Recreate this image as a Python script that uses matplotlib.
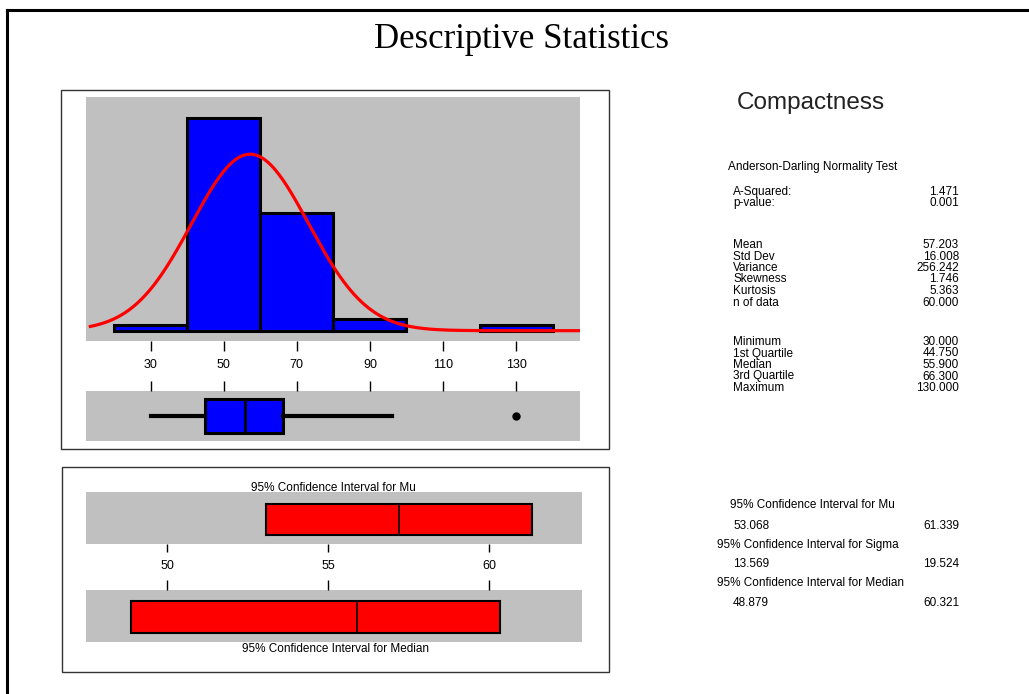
import numpy as np
import matplotlib
matplotlib.use('Agg')
import matplotlib.pyplot as plt
from matplotlib.patches import Rectangle
from matplotlib.lines import Line2D

plt.rcParams['font.family'] = ['Liberation Sans', 'DejaVu Sans']

# Histogram data (bins of 20)
bin_edges = [20, 40, 60, 80, 100, 120, 140]
bin_counts = [1, 36, 20, 2, 0, 1]

# Summary statistics
n_data = 60
mean_val = 57.203
std_val = 16.008
q1_val = 44.75
median_val = 55.9
q3_val = 66.3
whisker_lo = 30.0
whisker_hi = 96.0
outliers = [130.0]
ci_mu = [53.068, 61.339]
ci_median = [48.879, 60.321]
ci_sigma = [13.569, 19.524]

hist_ticks = [30, 50, 70, 90, 110, 130]
ci_ticks = [50, 55, 60]

stat_labels1 = ['A-Squared:', 'p-value:']
stat_values1 = ['1.471', '0.001']
stat_labels2 = ['Mean', 'Std Dev', 'Variance', 'Skewness', 'Kurtosis', 'n of data']
stat_values2 = ['57.203', '16.008', '256.242', '1.746', '5.363', '60.000']
stat_labels3 = ['Minimum', '1st Quartile', 'Median', '3rd Quartile', 'Maximum']
stat_values3 = ['30.000', '44.750', '55.900', '66.300', '130.000']

W, H = 1029, 694
GRAY = '#c0c0c0'
BLUE = '#0000ff'
RED = '#ff0000'

fig = plt.figure(figsize=(W / 100, H / 100), dpi=100)


def fx(x):
    return x / W


def fy(y):
    return 1 - y / H


def add_ax(x0, y0, x1, y1):
    ax = fig.add_axes([fx(x0), fy(y1), fx(x1) - fx(x0), (y1 - y0) / H])
    ax.set_facecolor(GRAY)
    for s in ax.spines.values():
        s.set_visible(False)
    return ax


# outer page border (top and left only)
fig.add_artist(Line2D([fx(7), 1], [fy(10), fy(10)], color='black', lw=2.2,
                      transform=fig.transFigure))
fig.add_artist(Line2D([fx(7), fx(7)], [fy(10), 0], color='black', lw=2.2,
                      transform=fig.transFigure))

# panel frames
for (x0, y0, x1, y1) in [(61, 90, 609, 449), (62, 467, 609, 672)]:
    fig.add_artist(Rectangle((fx(x0), fy(y1)), fx(x1) - fx(x0), (y1 - y0) / H,
                             fill=False, edgecolor='#333333', lw=1,
                             transform=fig.transFigure))

fig.text(0.507, fy(40), 'Descriptive Statistics', family='Liberation Serif',
         fontsize=25, ha='center', va='center')

# histogram
ax = add_ax(86, 97, 580, 341)
lefts = [e for e, c in zip(bin_edges[:-1], bin_counts) if c > 0]
heights = [c for c in bin_counts if c > 0]
ax.bar(lefts, heights, width=20, align='edge', color=BLUE, edgecolor='black',
       linewidth=2.2, zorder=2)
xs = np.linspace(13.5, 147.5, 400)
pdf = np.exp(-0.5 * ((xs - mean_val) / std_val) ** 2) / (std_val * np.sqrt(2 * np.pi))
ax.plot(xs, n_data * 20 * pdf, color=RED, lw=2.3, zorder=3)
ax.set_xlim(12.3, 147.5)
ax.set_ylim(-1.75, 39.6)
ax.set_yticks([])
ax.set_xticks(hist_ticks)
ax.tick_params(axis='x', direction='out', length=7.5, width=1, pad=5.5,
               labelsize=9, colors='black')

# boxplot
axb = add_ax(86, 391, 580, 441)
stats = [{'med': median_val, 'q1': q1_val, 'q3': q3_val,
          'whislo': whisker_lo, 'whishi': whisker_hi, 'fliers': outliers}]
axb.bxp(stats, positions=[1], widths=0.68, orientation='horizontal',
        patch_artist=True, showcaps=False,
        boxprops=dict(facecolor=BLUE, edgecolor='black', linewidth=2.2),
        medianprops=dict(color='black', linewidth=2),
        whiskerprops=dict(color='black', linewidth=3),
        flierprops=dict(marker='o', markerfacecolor='black',
                        markeredgecolor='black', markersize=5))
axb.set_xlim(12.3, 147.5)
axb.set_ylim(0.5, 1.5)
axb.set_yticks([])
axb.set_xticks(hist_ticks)
axb.xaxis.set_ticks_position('top')
axb.tick_params(axis='x', direction='out', length=7.5, width=1,
                labeltop=False, labelbottom=False)

# confidence interval panels
ci_xlim = (47.47, 62.88)
axm = add_ax(86, 492, 582, 544)
axm.barh(0.47, ci_mu[1] - ci_mu[0], left=ci_mu[0], height=0.58, color=RED,
         edgecolor='black', linewidth=1.5)
axm.plot([mean_val, mean_val], [0.18, 0.76], color='black', lw=1.2)
axm.set_xlim(*ci_xlim)
axm.set_ylim(0, 1)
axm.set_yticks([])
axm.set_xticks(ci_ticks)
axm.tick_params(axis='x', direction='out', length=6, width=1, pad=5.5,
                labelsize=9, colors='black')

axd = add_ax(86, 590, 582, 642)
axd.barh(0.48, ci_median[1] - ci_median[0], left=ci_median[0], height=0.6,
         color=RED, edgecolor='black', linewidth=1.5)
axd.plot([median_val, median_val], [0.18, 0.78], color='black', lw=1.2)
axd.set_xlim(*ci_xlim)
axd.set_ylim(0, 1)
axd.set_yticks([])
axd.set_xticks(ci_ticks)
axd.xaxis.set_ticks_position('top')
axd.tick_params(axis='x', direction='out', length=7, width=1,
                labeltop=False, labelbottom=False)

fig.text(fx(333), fy(488), '95% Confidence Interval for Mu', fontsize=8.5,
         ha='center', va='center')
fig.text(fx(335), fy(649), '95% Confidence Interval for Median', fontsize=8.5,
         ha='center', va='center')

# statistics text block
TS = 8.5
fig.text(fx(737), fy(103), 'Compactness', fontsize=17.5, ha='left', va='center',
         color='#222222')
fig.text(fx(728), fy(167), 'Anderson-Darling Normality Test', fontsize=TS,
         ha='left', va='center')

rows = [(stat_labels1, stat_values1, 191.7),
        (stat_labels2, stat_values2, 245),
        (stat_labels3, stat_values3, 342)]
for labels, values, y0 in rows:
    for i, (lab, val) in enumerate(zip(labels, values)):
        y = y0 + i * 11.5
        fig.text(fx(733), fy(y), lab, fontsize=TS, ha='left', va='center')
        fig.text(fx(959), fy(y), val, fontsize=TS, ha='right', va='center')

ci_rows = [('95% Confidence Interval for Mu', ci_mu, 730, 505, 526),
           ('95% Confidence Interval for Sigma', ci_sigma, 717, 545, 564),
           ('95% Confidence Interval for Median', ci_median, 717, 583, 603)]
for title, vals, tx, ty, vy in ci_rows:
    fig.text(fx(tx), fy(ty), title, fontsize=TS, ha='left', va='center')
    fig.text(fx(733), fy(vy), '%.3f' % vals[0], fontsize=TS, ha='left', va='center')
    fig.text(fx(959), fy(vy), '%.3f' % vals[1], fontsize=TS, ha='right', va='center')

fig.savefig('out.png', dpi=100, facecolor='white')
